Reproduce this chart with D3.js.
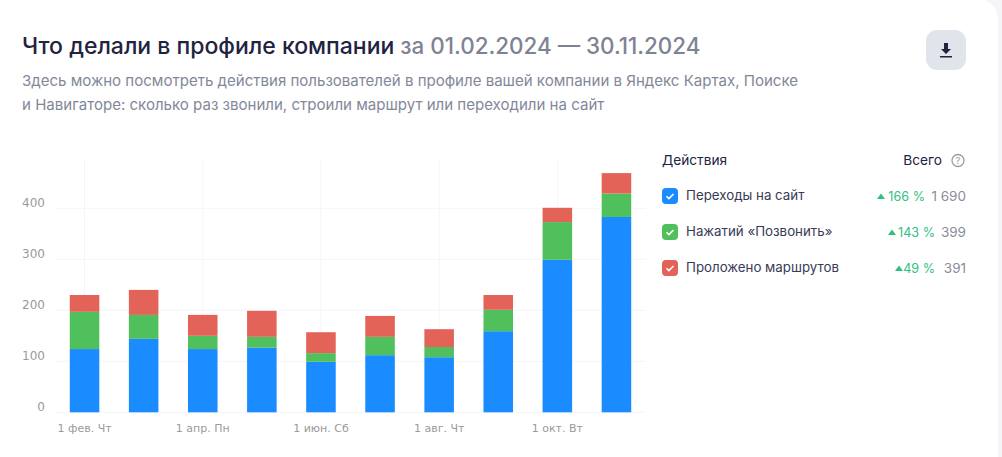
<!DOCTYPE html>
<html>
<head>
<meta charset="utf-8">
<script src="https://cdn.jsdelivr.net/npm/d3@7"></script>
<style>
  html, body { margin: 0; padding: 0; background: #f5f5f8; overflow: hidden; }
  svg { display: block; }
  text { font-family: Inter, "Noto Sans", sans-serif; }
  .axis text { font-family: "DejaVu Sans", sans-serif; fill: #9a9a9a; }
</style>
</head>
<body>
<svg id="chart" width="1002" height="457"></svg>
<script>
// chart data
const months = ["фев", "мар", "апр", "май", "июн", "июл", "авг", "сен", "окт", "ноя"];
const clicks = [124, 144, 124, 127, 99, 112, 108, 159, 299, 383];
const calls = [73, 47, 26, 21, 17, 36, 20, 42, 74, 46];
const routes = [33, 49, 41, 51, 41, 41, 35, 29, 28, 40];

const xLabels = { "фев": "1 фев. Чт", "апр": "1 апр. Пн", "июн": "1 июн. Сб", "авг": "1 авг. Чт", "окт": "1 окт. Вт" };
const yTicks = [0, 100, 200, 300, 400];

const seriesKeys = ["clicks", "calls", "routes"];
const seriesNames = ["Переходы на сайт", "Нажатий «Позвонить»", "Проложено маршрутов"];
const seriesChange = ["166 %", "143 %", "49 %"];
const seriesTotal = ["1 690", "399", "391"];
const colors = ["#1a8cff", "#50c05c", "#e36358"];

const svg = d3.select("#chart");

// card
svg.append("rect")
  .attr("x", -30).attr("y", -1)
  .attr("width", 1028).attr("height", 490)
  .attr("rx", 20)
  .attr("fill", "#fff");

// header
const title = svg.append("text")
  .attr("x", 22).attr("y", 54)
  .style("font-size", "23px")
  .style("font-weight", 500);
title.append("tspan").attr("fill", "#21233f").text("Что делали в профиле компании");
title.append("tspan").attr("fill", "#7e8394").style("font-size", "22.4px").text(" за 01.02.2024 — 30.11.2024");

const subtitle = ["Здесь можно посмотреть действия пользователей в профиле вашей компании в Яндекс Картах, Поиске",
  "и Навигаторе: сколько раз звонили, строили маршрут или переходили на сайт"];
svg.selectAll(".sub").data(subtitle).enter().append("text")
  .attr("class", "sub")
  .attr("x", 22)
  .attr("y", (d, i) => 86 + i * 24)
  .attr("fill", "#838899")
  .style("font-size", "15.05px")
  .text(d => d);

// download button
svg.append("rect")
  .attr("x", 926).attr("y", 30)
  .attr("width", 40).attr("height", 40)
  .attr("rx", 11)
  .attr("fill", "#e2e4ec");
svg.append("path")
  .attr("d", "M944 43h4v6h3l-5 5-5-5h3zM940 56h12v1.6h-12z")
  .attr("fill", "#21233f");

// chart
const x = d3.scaleBand().domain(months).range([55, 646]).paddingInner(0.5).paddingOuter(0.25);
const y = d3.scaleLinear().domain([0, 400]).range([412.3, 208.3]);

const stacked = d3.stack().keys(seriesKeys)(months.map((m, i) => ({
  month: m, clicks: clicks[i], calls: calls[i], routes: routes[i]
})));

const grid = svg.append("g");
grid.selectAll(".h").data(yTicks).enter().append("line")
  .attr("x1", 55).attr("x2", 646)
  .attr("y1", d => y(d)).attr("y2", d => y(d))
  .attr("stroke", "#f3f5fd");
grid.selectAll(".v").data(months.filter(m => xLabels[m])).enter().append("line")
  .attr("x1", d => x(d) + x.bandwidth() / 2).attr("x2", d => x(d) + x.bandwidth() / 2)
  .attr("y1", 160).attr("y2", 412)
  .attr("stroke", "#f3f5fd");

svg.selectAll(".series").data(stacked).enter().append("g")
  .attr("fill", (d, i) => colors[i])
  .selectAll("rect").data(d => d).enter().append("rect")
    .attr("x", d => x(d.data.month))
    .attr("y", d => y(d[1]))
    .attr("width", x.bandwidth())
    .attr("height", d => y(d[0]) - y(d[1]));

const yAxis = svg.append("g").attr("class", "axis");
yAxis.selectAll("text").data(yTicks).enter().append("text")
  .attr("x", 45)
  .attr("y", d => y(d) - 1)
  .attr("text-anchor", "end")
  .style("font-size", "12px")
  .text(d => d);

const xAxis = svg.append("g").attr("class", "axis");
xAxis.selectAll("text").data(months.filter(m => xLabels[m])).enter().append("text")
  .attr("x", d => x(d) + x.bandwidth() / 2)
  .attr("y", 432)
  .attr("text-anchor", "middle")
  .style("font-size", "11px")
  .text(d => xLabels[d]);

// legend
svg.append("text").attr("x", 662).attr("y", 165)
  .attr("fill", "#21233f").style("font-size", "13.7px").text("Действия");
svg.append("text").attr("x", 942).attr("y", 165).attr("text-anchor", "end")
  .attr("fill", "#21233f").style("font-size", "13.7px").text("Всего");
svg.append("circle").attr("cx", 958).attr("cy", 160.5).attr("r", 6)
  .attr("fill", "none").attr("stroke", "#9a9ca8").attr("stroke-width", 1.3);
svg.append("text").attr("x", 958).attr("y", 164).attr("text-anchor", "middle")
  .attr("fill", "#9a9ca8").style("font-size", "9.5px").text("?");

const rows = svg.selectAll(".row").data(seriesNames).enter().append("g")
  .attr("transform", (d, i) => `translate(0,${196 + i * 36})`);
rows.append("rect")
  .attr("x", 662).attr("y", -8)
  .attr("width", 16).attr("height", 16)
  .attr("rx", 4)
  .attr("fill", (d, i) => colors[i]);
rows.append("path")
  .attr("d", "M666.5 0.2l2.4 2.4 4.6-4.6")
  .attr("fill", "none")
  .attr("stroke", "#fff")
  .attr("stroke-width", 1.6);
rows.append("text")
  .attr("x", 686).attr("y", 4)
  .attr("fill", "#383b55")
  .style("font-size", "13.3px")
  .text(d => d);
rows.append("text")
  .attr("x", 966).attr("y", 5)
  .attr("text-anchor", "end")
  .attr("fill", "#8a8d9c")
  .style("font-size", "13.5px")
  .text((d, i) => seriesTotal[i]);
rows.append("text")
  .attr("x", (d, i) => i === 0 ? 925 : 935).attr("y", 5)
  .attr("text-anchor", "end")
  .attr("fill", "#2fbf7f")
  .style("font-size", "12.6px")
  .text((d, i) => seriesChange[i]);
rows.append("path")
  .attr("d", "M-4 3L0 -2.5L4 3Z")
  .attr("transform", (d, i) => `translate(${[881, 892, 899][i]},0)`)
  .attr("fill", "#2fbf7f");
</script>
</body>
</html>
